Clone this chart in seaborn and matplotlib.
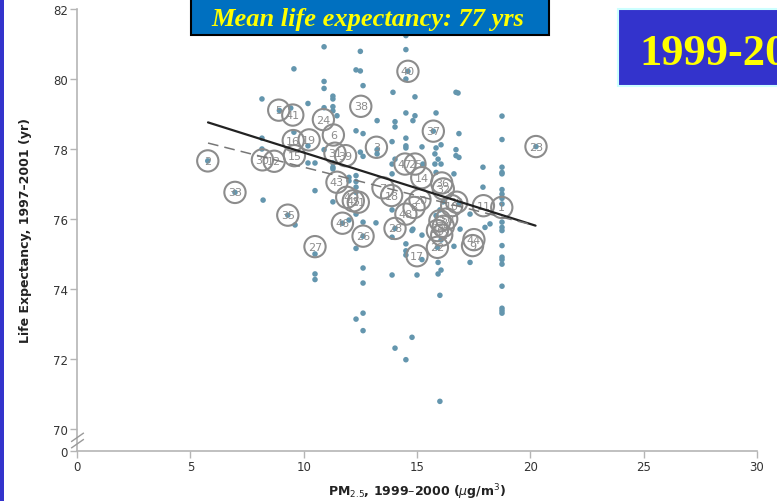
import numpy as np
import pandas as pd
import matplotlib
matplotlib.use("Agg")
import matplotlib.pyplot as plt
import seaborn as sns
from matplotlib.patches import Rectangle
from matplotlib.path import Path

# ---------------- data ----------------
dot_pm = [10.90, 12.50, 14.51, 14.51, 9.57, 12.31, 12.50, 10.90, 10.90, 12.62,
          14.51, 13.94, 14.91, 16.72, 16.81, 11.29, 11.29, 10.19, 10.90, 11.29,
          11.29, 11.47, 9.43, 8.93, 13.24, 14.03, 14.03, 14.51, 14.91, 14.82,
          15.84, 12.31, 12.62, 13.90, 14.51, 14.51, 14.51, 15.22, 15.84, 16.06,
          16.72, 16.85, 18.75, 18.75, 10.90, 12.50, 9.57, 8.16, 8.16, 8.16,
          10.19, 10.19, 10.50, 11.29, 11.29, 11.29, 8.21, 10.50, 11.29, 9.62,
          10.50, 10.50, 10.50, 12.31, 12.31, 12.31, 12.31, 12.31, 12.31, 12.62,
          13.19, 12.00, 12.62, 12.62, 12.62, 12.31, 12.62, 12.00, 12.00, 12.62,
          13.24, 13.24, 13.90, 13.90, 14.03, 13.90, 13.90, 14.51, 14.51, 14.51,
          13.90, 14.78, 15.22, 15.22, 15.00, 14.78, 14.03, 14.51, 15.93, 16.06,
          16.01, 15.93, 16.63, 17.34, 16.01, 14.82, 16.90, 15.79, 15.79, 16.06,
          15.26, 16.63, 16.72, 16.85, 15.93, 15.84, 17.91, 17.91, 18.00, 18.22,
          17.34, 18.75, 18.75, 18.75, 18.75, 18.75, 18.75, 18.75, 18.75, 18.75,
          18.75, 18.75, 18.75, 18.75, 18.75, 18.75, 18.75, 18.75, 18.75,
          5.77, 6.97, 9.30, 14.60, 15.72, 20.25, 11.71, 12.62, 14.03, 15.90,
          16.01, 16.15, 15.84, 16.06, 16.85]
dot_le = [80.92, 80.79, 81.24, 80.84, 80.29, 80.26, 80.23, 79.93, 79.73, 79.81,
          80.00, 79.62, 79.49, 79.62, 79.60, 79.51, 79.43, 79.30, 79.18, 79.21,
          79.09, 78.95, 79.17, 79.10, 78.81, 78.78, 78.63, 79.03, 78.95, 78.81,
          79.03, 78.52, 78.44, 78.21, 78.31, 78.09, 78.03, 78.06, 78.03, 78.12,
          77.98, 78.44, 78.94, 78.27, 77.98, 77.91, 78.48, 79.43, 78.31, 78.00,
          78.09, 77.60, 77.60, 77.60, 77.48, 77.43, 76.54, 76.81, 76.49, 75.83,
          75.00, 74.43, 74.27, 77.24, 77.07, 76.91, 76.76, 76.14, 75.16, 75.91,
          75.89, 75.97, 74.60, 74.17, 73.31, 73.14, 72.81, 77.19, 77.09, 77.79,
          77.98, 77.86, 77.57, 77.29, 77.71, 76.26, 75.48, 75.29, 75.09, 74.97,
          74.40, 75.67, 75.54, 74.84, 74.40, 72.62, 72.31, 71.98, 74.43, 74.54,
          73.82, 74.76, 75.22, 74.76, 70.79, 75.71, 75.71, 77.86, 77.57, 77.57,
          77.57, 77.29, 77.81, 77.76, 77.71, 77.33, 77.48, 76.91, 75.76, 75.86,
          76.14, 77.48, 77.33, 77.29, 76.84, 76.71, 76.59, 76.43, 75.91, 75.76,
          75.67, 75.24, 74.91, 74.84, 74.71, 74.08, 73.45, 73.38, 73.31,
          77.66, 76.76, 76.11, 80.22, 78.51, 78.07, 75.88, 75.51, 75.73, 75.19,
          76.26, 76.49, 76.10, 75.40, 76.43]

city_pm = [5.77, 6.97, 8.18, 8.70, 8.90, 9.52, 9.54, 10.24, 9.59, 9.30,
           10.50, 10.87, 11.31, 12.52, 11.38, 11.85, 11.47, 11.90, 12.19, 12.41,
           11.71, 12.62, 13.21, 13.50, 13.88, 14.03, 14.60, 15.72, 14.47, 14.91,
           15.21, 16.09, 16.16, 15.13, 14.87, 14.51, 15.00, 15.90, 16.01, 16.16,
           15.90, 16.09, 16.31, 16.53, 16.75, 17.93, 18.74, 17.51, 17.45, 20.25]
city_le = [77.66, 76.76, 77.69, 77.65, 79.11, 78.97, 78.24, 78.26, 77.81, 76.11,
           75.21, 78.84, 78.40, 79.22, 77.88, 77.81, 77.05, 76.62, 76.52, 76.48,
           75.88, 75.51, 78.05, 76.89, 76.67, 75.73, 80.22, 78.51, 77.57, 77.57,
           77.18, 77.03, 76.86, 76.55, 76.33, 76.14, 74.95, 75.19, 75.95, 75.79,
           75.67, 75.54, 76.00, 76.38, 76.48, 76.38, 76.33, 75.41, 75.24, 78.07]
city_id = ["2", "33", "30", "12", "5", "41", "16", "19", "15", "35",
           "27", "24", "6", "38", "31", "39", "43", "4", "45", "21",
           "46", "26", "3", "7", "18", "28", "40", "37", "47", "25",
           "14", "36", "32", "20", "8", "48", "17", "22", "13", "34",
           "49", "42", "50", "10", "29", "11", "1", "44", "9", "23"]

fit_pm = [5.78, 20.23]
fit_le = [78.76, 75.81]
fit2_pm = [5.78, 20.11]
fit2_le = [78.17, 75.83]

x_ticks = [0, 5, 10, 15, 20, 25, 30]
y_ticks = [0, 70, 72, 74, 76, 78, 80, 82]

title_text = "Mean life expectancy: 77 yrs"
period_text = "1999-2000"
x_label = r"PM$_{2.5}$, 1999–2000 ($\mu$g/m$^3$)"
y_label = "Life Expectancy, 1997–2001 (yr)"

# ---------------- style ----------------
sns.set_style("ticks")
plt.rcParams["font.family"] = ["Liberation Sans Narrow", "DejaVu Sans"]

fig = plt.figure(figsize=(7.77, 5.02), dpi=100)
ax = fig.add_axes([77 / 777, 1 - 452 / 502, 680 / 777, 442 / 502])

K = 22.0 / 35.0  # compressed height of the 0-70 segment


def fwd(y):
    y = np.asarray(y, dtype=float)
    return np.where(y >= 70, y - 70 + K, y * K / 70.0)


def inv(t):
    t = np.asarray(t, dtype=float)
    return np.where(t >= K, t + 70 - K, t * 70.0 / K)


ax.set_yscale("function", functions=(fwd, inv))

dots = pd.DataFrame({"pm": dot_pm, "le": dot_le})
cities = pd.DataFrame({"pm": city_pm, "le": city_le, "id": city_id})

sns.scatterplot(data=dots, x="pm", y="le", ax=ax, s=16, color="#6496AE",
                edgecolor="none", linewidth=0, zorder=2, clip_on=False)
sns.scatterplot(data=cities, x="pm", y="le", ax=ax, s=235, marker="o",
                facecolor="none", edgecolor="#8c8c8c", linewidth=1.5, zorder=3)
for pm, le, lab in zip(city_pm, city_le, city_id):
    ax.text(pm, le, lab, ha="center", va="center", fontsize=8,
            color="#8c8c8c", zorder=4)

sns.lineplot(x=fit_pm, y=fit_le, ax=ax, color="#222222", linewidth=1.6, zorder=5)
sns.lineplot(x=fit2_pm, y=fit2_le, ax=ax, color="#777777", linewidth=1.1,
             dashes=False, zorder=5).lines[-1].set_dashes([7, 4])

ax.set_xlim(0, 30)
ax.set_ylim(0, 82)
ax.set_xticks(x_ticks)
ax.set_yticks(y_ticks)
ax.set_xticklabels([str(v) for v in x_ticks])
ax.set_yticklabels([str(v) for v in y_ticks])
ax.minorticks_off()

for side in ["top", "right"]:
    ax.spines[side].set_visible(False)
for side in ["left", "bottom"]:
    ax.spines[side].set_color("#b5b5b5")
    ax.spines[side].set_linewidth(1.2)
ax.tick_params(axis="both", colors="#b5b5b5", length=5, width=1.0,
               labelsize=8.5, labelcolor="#333333", pad=1.5)

ax.set_xlabel(x_label, fontsize=9, color="#222222", fontweight="bold")
ax.set_ylabel(y_label, fontsize=9, color="#222222", fontweight="bold")
ax.xaxis.set_label_coords(0.5, -0.068)
ax.yaxis.set_label_coords(-0.066, 0.5)

# axis break marker
brk = Path([(-1, -1.2), (1, 0.2), (-1, -0.2), (1, 1.2)],
           [Path.MOVETO, Path.LINETO, Path.MOVETO, Path.LINETO])
ax.plot([0], [35], marker=brk, markersize=11, color="#9a9a9a",
        markeredgewidth=1.0, clip_on=False, zorder=6)

# slide decorations
fig.patches.append(Rectangle((0, 0), 4 / 777, 1, transform=fig.transFigure,
                             facecolor="#3333CC", edgecolor="none", zorder=0))
fig.patches.append(Rectangle((191 / 777, 1 - 36 / 502), 358 / 777, 45 / 502,
                             transform=fig.transFigure, facecolor="#0070C0",
                             edgecolor="black", linewidth=1.5, zorder=10))
fig.text(368 / 777, 1 - 26 / 502, title_text, ha="center", va="baseline",
         fontsize=19, color="#FFFF00", fontstyle="italic", fontweight="bold",
         family=["Liberation Serif", "DejaVu Serif"], zorder=11)
fig.patches.append(Rectangle((618 / 777, 1 - 87 / 502), 0.3, 77 / 502,
                             transform=fig.transFigure, facecolor="#3333CC",
                             edgecolor="#CCFFFF", linewidth=1.5, zorder=10))
fig.text(639 / 777, 1 - 65 / 502, period_text, ha="left", va="baseline",
         fontsize=32, color="#FFFF00", fontweight="bold",
         family=["Liberation Serif", "DejaVu Serif"], zorder=11)

fig.savefig("out.png", dpi=100)
